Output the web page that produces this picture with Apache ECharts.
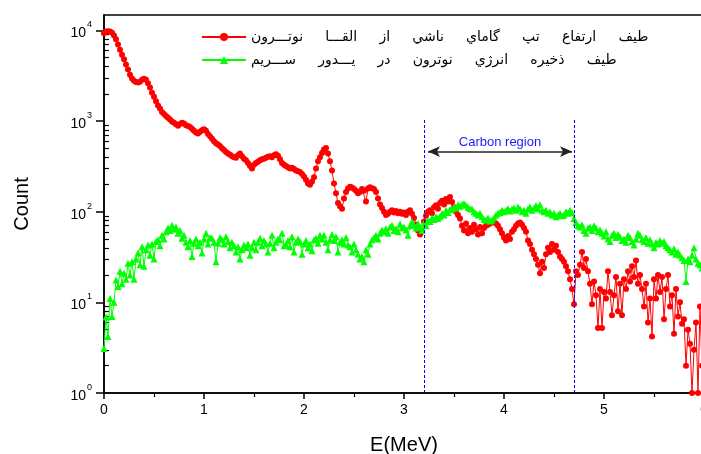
<!DOCTYPE html>
<html>
<head>
<meta charset="utf-8">
<script src="https://cdn.jsdelivr.net/npm/echarts@6/dist/echarts.min.js"></script>
<style>
    html, body { margin: 0; padding: 0; background: #fff; }
    #chart { width: 701px; height: 454px; }
</style>
</head>
<body>
<div id="chart"></div>
<script>
    // channel width of the spectra (MeV)
    var energyStep = 0.02;

    // red: gamma pulse height spectrum, counts per channel, 0.00 .. 6.00 MeV
    var redCounts = [
        9300, 9700, 9800, 9700, 9400, 8800, 8000, 7000, 6100, 5400,
        4800, 4200, 3700, 3250, 2950, 2780, 2700, 2660, 2720, 2850,
        2920, 2850, 2620, 2350, 2050, 1850, 1650, 1480, 1380, 1260,
        1200, 1140, 1090, 1040, 990, 960, 920, 890, 930, 960,
        940, 900, 880, 860, 820, 780, 750, 730, 760, 790,
        810, 780, 720, 680, 640, 600, 570, 550, 530, 500,
        480, 455, 440, 425, 410, 400, 395, 420, 440, 410,
        385, 370, 345, 320, 300, 330, 345, 355, 370, 380,
        385, 395, 405, 410, 400, 420, 430, 415, 380, 345,
        330, 320, 310, 300, 305, 295, 285, 280, 275, 260,
        245, 225, 205, 198, 215, 240, 300, 360, 400, 445,
        485, 505, 440, 360, 285, 205, 160, 125, 115, 108,
        140, 165, 180, 188, 185, 178, 170, 160, 165, 178,
        170, 130, 180, 186, 182, 178, 165, 140, 120, 110,
        100, 92, 95, 100, 104, 98, 102, 96, 100, 95,
        98, 92, 100, 104, 95, 85, 72, 62, 56, 60,
        78, 90, 100, 104, 96, 112, 118, 108, 125, 132,
        120, 138, 130, 145, 128, 112, 100, 92, 84, 70,
        62, 74, 58, 66, 60, 72, 64, 56, 68, 58,
        66, 70, 72, 74, 76, 78, 74, 70, 64, 58,
        52, 48, 54, 50, 60, 64, 70, 74, 76, 72,
        66, 60, 48, 44, 38, 34, 30, 26, 21, 28,
        24, 34, 40, 36, 44, 38, 42, 36, 32, 30,
        28, 25, 22, 18, 14, 9.5, 22, 20, 26, 36,
        24, 30, 22, 16, 9.5, 17, 12, 5.2, 14, 5.2,
        13, 11, 22, 13, 7.2, 12, 19, 8, 16, 7.2,
        18, 14, 22, 17, 25, 19, 29, 16, 20, 14,
        9, 16, 6, 11, 4.2, 18, 11, 20, 13, 19,
        6.5, 14, 20, 9, 12, 4.5, 14, 7, 10, 5.8,
        6.5, 2.0, 5, 3.5, 1, 3, 6, 1, 9, 2,
        3
    ];

    // green: neutron energy deposition spectrum, 0.00 .. 6.00 MeV
    var greenCounts = [
        3.1, 6.9, 4.2, 11, 7, 10, 17.6, 15, 22, 16,
        21, 18, 27, 20, 28, 18, 30, 35, 26, 41,
        25, 38, 43, 33, 44, 30, 47, 49, 42, 55,
        50, 60, 66, 62, 71, 64, 68, 58, 62, 51,
        55, 46, 41, 48, 32, 45, 50, 42, 46, 35,
        50, 58, 44, 52, 51, 46, 28, 45, 52, 49,
        44, 53, 47, 40, 46, 42, 36, 41, 30, 38,
        43, 40, 44, 33, 40, 46, 38, 46, 51, 42,
        48, 44, 36, 45, 55, 40, 46, 50, 49, 58,
        42, 43, 48, 41, 53, 36, 46, 50, 47, 34,
        44, 48, 40, 44, 37, 49, 51, 45, 55, 50,
        55, 46, 38, 49, 56, 48, 53, 36, 46, 49,
        44, 52, 43, 41, 36, 44, 38, 34, 30, 32,
        28, 38, 34, 44, 49, 52, 55, 50, 58, 63,
        60, 65, 58, 68, 71, 62, 65, 60, 73, 66,
        68, 63, 55, 70, 78, 72, 66, 74, 68, 62,
        75, 70, 80, 78, 85, 82, 88, 84, 88, 96,
        92, 104, 98, 106, 107, 112, 110, 119, 115, 120,
        123, 118, 112, 108, 107, 100, 96, 92, 96, 88,
        82, 81, 85, 79, 81, 86, 92, 96, 98, 104,
        100, 104, 108, 102, 107, 110, 104, 113, 108, 100,
        104, 96, 108, 113, 104, 110, 117, 108, 119, 104,
        100, 104, 96, 100, 92, 96, 88, 92, 96, 90,
        92, 100, 96, 104, 98, 84, 76, 70, 68, 72,
        62, 58, 66, 68, 62, 70, 66, 60, 63, 58,
        54, 60, 50, 47, 55, 58, 52, 56, 53, 48,
        50, 46, 55, 52, 47, 43, 50, 58, 55, 49,
        47, 52, 45, 49, 44, 40, 46, 44, 48, 45,
        47, 42, 40, 38, 36, 39, 34, 36, 33, 31,
        29, 17, 30, 28, 33, 40, 30, 27, 26, 24,
        25
    ];

    var redName = 'طيف     ارتفاع     تپ     گاماي     ناشي     از     القـــا     نوتـــرون';
    var greenName = 'طيف     ذخيره     انرژي     نوترون     در     يـــدور     ســـريم';

    // carbon region limits (MeV)
    var carbonRegion = [3.2, 4.7];

    var yMaxLog = 4.17;
    var majorExp = [0, 1, 2, 3, 4];

    function toPoints(counts) {
        return counts.map(function (c, i) {
            return [+(i * energyStep).toFixed(2), Math.log10(c)];
        });
    }

    var minorLog = [];
    for (var n = 0; n < 5; n++) {
        for (var k = 2; k <= 9; k++) {
            var v = Math.log10(k) + n;
            if (v < yMaxLog) minorLog.push(v);
        }
    }

    var font = 'Liberation Sans, Arial, sans-serif';
    var myChart = echarts.init(document.getElementById('chart'));
    myChart.setOption({
        animation: false,
        grid: {
            left: 104, top: 15, width: 600, height: 378,
            outerBoundsMode: 'none', containLabel: false,
            show: true, borderColor: '#000', borderWidth: 1.5, backgroundColor: 'transparent'
        },
        legend: {
            orient: 'vertical',
            left: 196, top: 25,
            itemWidth: 44, itemHeight: 10, itemGap: 9,
            textStyle: { fontFamily: 'DejaVu Sans', fontSize: 14, color: '#000' },
            data: [redName, greenName]
        },
        xAxis: {
            type: 'value', min: 0, max: 6, interval: 1,
            name: 'E(MeV)', nameLocation: 'middle', nameGap: 42,
            nameTextStyle: { fontFamily: font, fontSize: 20, color: '#000' },
            axisLine: { lineStyle: { color: '#000', width: 1.5 } },
            axisTick: { length: 6, lineStyle: { color: '#000', width: 1.5 } },
            minorTick: { show: true, splitNumber: 2, length: 4, lineStyle: { color: '#000', width: 1.2 } },
            axisLabel: { fontFamily: font, fontSize: 14, color: '#000', margin: 10 },
            splitLine: { show: false }
        },
        yAxis: [{
            type: 'value', min: 0, max: yMaxLog,
            name: 'Count', nameLocation: 'middle', nameGap: 72,
            nameTextStyle: { fontFamily: font, fontSize: 20, color: '#000' },
            axisLine: { show: true, lineStyle: { color: '#000', width: 1.5 } },
            axisTick: { length: 8, customValues: majorExp, lineStyle: { color: '#000', width: 1.5 } },
            axisLabel: {
                customValues: majorExp, margin: 12,
                formatter: function (v) { return '{b|10}{s|' + v + '}'; },
                rich: {
                    b: { fontFamily: font, fontSize: 14, color: '#000', lineHeight: 20, verticalAlign: 'bottom' },
                    s: { fontFamily: font, fontSize: 9, color: '#000', lineHeight: 20, verticalAlign: 'top', padding: [0, 0, 0, 1] }
                }
            },
            splitLine: { show: false }
        }, {
            // log minor ticks
            type: 'value', min: 0, max: yMaxLog, position: 'left',
            axisLine: { show: false },
            axisTick: { show: true, inside: true, length: 5, customValues: minorLog, lineStyle: { color: '#000', width: 1.2 } },
            axisLabel: { show: false },
            splitLine: { show: false }
        }],
        series: [{
            name: redName,
            type: 'line',
            data: toPoints(redCounts),
            symbol: 'circle', symbolSize: 6,
            itemStyle: { color: '#ff0000' },
            lineStyle: { color: '#ff0000', width: 1 },
            markLine: {
                silent: true,
                symbol: ['none', 'none'],
                label: { show: false },
                data: [
                    [{ coord: [carbonRegion[0], 0], lineStyle: { color: '#0000ff', type: [3, 2], width: 1 } }, { coord: [carbonRegion[0], 3.02] }],
                    [{ coord: [carbonRegion[1], 0], lineStyle: { color: '#0000ff', type: [3, 2], width: 1 } }, { coord: [carbonRegion[1], 3.02] }],
                    [{
                        coord: [3.24, 2.663], symbol: 'arrow', symbolSize: [8, 12],
                        lineStyle: { color: '#222', type: 'solid', width: 1.5 },
                        label: {
                            show: true, formatter: 'Carbon region', position: 'insideMiddleTop', distance: 3,
                            fontFamily: font, fontSize: 13, color: '#1a1aff'
                        }
                    }, { coord: [4.68, 2.663], symbol: 'arrow', symbolSize: [8, 12] }]
                ]
            }
        }, {
            name: greenName,
            type: 'line',
            data: toPoints(greenCounts),
            symbol: 'triangle', symbolSize: 7,
            itemStyle: { color: '#00ff00' },
            lineStyle: { color: '#00ff00', width: 1 }
        }]
    });
</script>
</body>
</html>
